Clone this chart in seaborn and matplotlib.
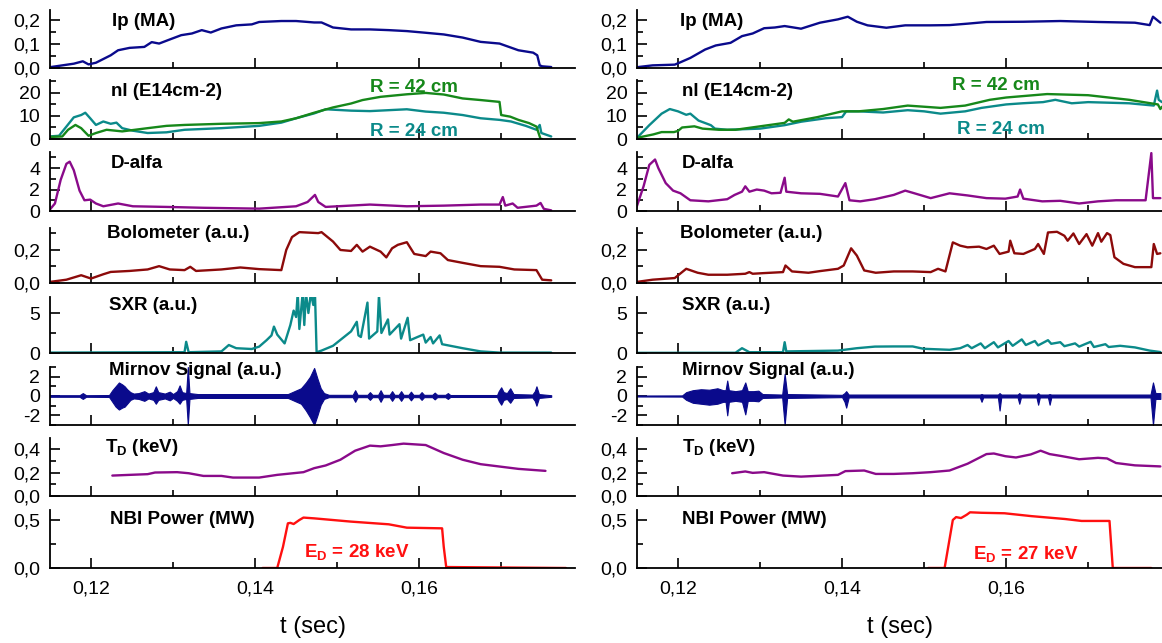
import numpy as np
import pandas as pd
import seaborn as sns
import matplotlib.pyplot as plt
import matplotlib.ticker as mticker

# ---------------- left shot ----------------
ip_t_l = [0.1149, 0.1179, 0.1190, 0.1197, 0.1206, 0.1224, 0.1233, 0.1247, 0.1265, 0.1274, 0.1283, 0.1296,
          0.1310, 0.1323, 0.1335, 0.1346, 0.1359, 0.1377, 0.1396, 0.1405, 0.1432, 0.1450, 0.1472, 0.1481,
          0.1495, 0.1517, 0.1540, 0.1563, 0.1585, 0.1608, 0.1630, 0.1653, 0.1675, 0.1698, 0.1721, 0.1739,
          0.1744, 0.1747, 0.1750, 0.1761]
ip_l = [0.003, 0.018, 0.028, 0.015, 0.022, 0.053, 0.074, 0.084, 0.088, 0.108, 0.102, 0.119,
        0.137, 0.144, 0.158, 0.148, 0.165, 0.178, 0.182, 0.192, 0.196, 0.196, 0.190, 0.190,
        0.169, 0.161, 0.161, 0.158, 0.154, 0.147, 0.140, 0.127, 0.109, 0.102, 0.074, 0.064,
        0.053, 0.011, 0.007, 0.004]

nl42_t_l = [0.1149, 0.1165, 0.1172, 0.1181, 0.1188, 0.1197, 0.1206, 0.1219, 0.1238, 0.1269, 0.1292, 0.1314,
            0.1359, 0.1405, 0.1432, 0.1450, 0.1472, 0.1495, 0.1517, 0.1531, 0.1553, 0.1585, 0.1608, 0.1630,
            0.1653, 0.1675, 0.1698, 0.1700, 0.1711, 0.1721, 0.1734, 0.1743, 0.1748, 0.1750]
nl42_l = [0.9, 1.1, 4.0, 6.1, 4.7, 1.4, 2.6, 4.0, 3.3, 4.7, 5.7, 6.1,
          6.6, 6.9, 7.6, 9.0, 11.4, 13.7, 15.4, 16.9, 18.3, 19.4, 20.0, 19.3,
          17.6, 16.9, 16.1, 10.4, 9.7, 8.3, 6.9, 5.4, 0.0, 0.0]
nl24_t_l = [0.1149, 0.1161, 0.1170, 0.1179, 0.1188, 0.1193, 0.1199, 0.1206, 0.1215, 0.1224, 0.1231, 0.1238,
            0.1251, 0.1269, 0.1292, 0.1314, 0.1359, 0.1405, 0.1432, 0.1450, 0.1472, 0.1486, 0.1517, 0.1540,
            0.1585, 0.1608, 0.1630, 0.1653, 0.1675, 0.1698, 0.1712, 0.1730, 0.1743, 0.1747, 0.1749, 0.1761]
nl24_l = [1.1, 1.4, 5.4, 9.4, 10.4, 11.4, 9.0, 6.1, 7.6, 6.6, 7.1, 4.7,
          3.6, 2.6, 2.9, 4.0, 4.7, 5.7, 7.1, 9.0, 11.1, 12.9, 12.3, 12.1,
          12.9, 11.9, 11.4, 10.4, 9.0, 8.3, 7.6, 5.7, 4.0, 6.1, 2.6, 1.1]

da_t_l = [0.1149, 0.1156, 0.1163, 0.1170, 0.1174, 0.1179, 0.1186, 0.1192, 0.1199, 0.1206, 0.1215, 0.1233,
          0.1251, 0.1292, 0.1337, 0.1405, 0.1450, 0.1464, 0.1473, 0.1477, 0.1486, 0.1540, 0.1585, 0.1630,
          0.1675, 0.1698, 0.1702, 0.1705, 0.1714, 0.1720, 0.1743, 0.1748, 0.1752, 0.1761]
da_l = [0.06, 0.7, 2.9, 4.4, 4.6, 3.8, 1.9, 1.0, 1.06, 0.7, 0.44, 0.7,
        0.44, 0.38, 0.3, 0.22, 0.44, 0.84, 1.5, 0.84, 0.38, 0.6, 0.44, 0.5,
        0.6, 0.6, 1.3, 0.5, 0.7, 0.3, 0.5, 0.75, 0.2, 0.06]

bolo_t_l = [0.1149, 0.1170, 0.1188, 0.1200, 0.1215, 0.1224, 0.1247, 0.1269, 0.1283, 0.1296, 0.1314, 0.1321,
            0.1328, 0.1359, 0.1382, 0.1405, 0.1432, 0.1438, 0.1445, 0.1454, 0.1477, 0.1481, 0.1495, 0.1504,
            0.1517, 0.1524, 0.1531, 0.1540, 0.1553, 0.1560, 0.1567, 0.1574, 0.1585, 0.1594, 0.1608, 0.1614,
            0.1626, 0.1635, 0.1653, 0.1675, 0.1698, 0.1716, 0.1743, 0.1750, 0.1761]
bolo_l = [0.006, 0.02, 0.047, 0.027, 0.053, 0.067, 0.073, 0.082, 0.102, 0.082, 0.078, 0.098,
          0.073, 0.082, 0.094, 0.084, 0.078, 0.2, 0.278, 0.308, 0.302, 0.308, 0.251, 0.2,
          0.194, 0.231, 0.19, 0.22, 0.19, 0.155, 0.21, 0.231, 0.247, 0.176, 0.163, 0.19,
          0.18, 0.139, 0.122, 0.102, 0.098, 0.082, 0.078, 0.02, 0.016]

sxr_t_l = [0.1149, 0.1305, 0.1314, 0.1316, 0.1319, 0.1359, 0.1368, 0.1377, 0.1396, 0.1405, 0.1414, 0.1420,
           0.1423, 0.1427, 0.1436, 0.1443, 0.1447, 0.1450, 0.1452, 0.1454, 0.1458, 0.1460, 0.1462, 0.1465,
           0.1468, 0.1471, 0.1473, 0.1475, 0.1481, 0.1495, 0.1517, 0.1524, 0.1526, 0.1529, 0.1537, 0.1539,
           0.1549, 0.1551, 0.1554, 0.1562, 0.1564, 0.1576, 0.1578, 0.1586, 0.1589, 0.1598, 0.1605, 0.1608,
           0.1614, 0.1617, 0.1625, 0.1628, 0.1653, 0.1675, 0.1698, 0.1761]
sxr_l = [0.05, 0.1, 0.1, 1.4, 0.1, 0.2, 1.0, 0.6, 0.5, 0.8, 1.6, 2.2,
         3.3, 2.3, 1.2, 3.5, 5.3, 4.5, 7.5, 3.0, 7.5, 3.5, 7.5, 5.0,
         7.5, 6.0, 7.5, 0.1, 0.3, 0.9, 2.7, 3.9, 2.2, 2.0, 6.3, 1.8,
         2.7, 7.2, 2.5, 4.2, 2.3, 3.6, 1.8, 4.4, 1.6, 2.0, 2.3, 1.3,
         2.0, 1.2, 2.2, 1.1, 0.6, 0.2, 0.05, 0.05]

# Mirnov coil: envelope of the fast oscillation (upper / lower)
mir_t_l = [0.1149, 0.1186, 0.1190, 0.1194, 0.1222, 0.1226, 0.1230, 0.1234, 0.1238, 0.1241, 0.1244, 0.1248,
           0.1252, 0.1258, 0.1265, 0.1270, 0.1276, 0.1279, 0.1282, 0.1290, 0.1296, 0.1300, 0.1305, 0.1308,
           0.1311, 0.1316, 0.1318, 0.1320, 0.1330, 0.1440, 0.1448, 0.1456, 0.1462, 0.1467, 0.1472, 0.1476,
           0.1480, 0.1484, 0.1490,
           0.1519, 0.1522, 0.1525, 0.1537, 0.1540, 0.1543, 0.1550, 0.1553, 0.1556, 0.1564, 0.1567, 0.1570,
           0.1575, 0.1578, 0.1581, 0.1587, 0.1590, 0.1593, 0.1600, 0.1603, 0.1606, 0.1616, 0.1619, 0.1622,
           0.1632, 0.1635, 0.1638, 0.1695, 0.1697, 0.1700, 0.1703, 0.1707, 0.1711, 0.1715, 0.1738, 0.1741,
           0.1743, 0.1746, 0.1761]
mir_hi_l = [0.08, 0.08, 0.3, 0.08, 0.1, 0.6, 1.0, 1.4, 1.2, 1.0, 0.7, 0.4,
            0.25, 0.3, 0.5, 0.25, 0.4, 1.0, 0.4, 0.25, 0.45, 0.2, 0.5, 1.1,
            0.4, 0.3, 3.0, 0.3, 0.2, 0.2, 0.5, 0.8, 1.4, 2.0, 2.9, 1.8,
            0.8, 0.3, 0.12,
            0.12, 0.6, 0.12, 0.12, 0.4, 0.12, 0.12, 0.6, 0.12, 0.12, 0.5, 0.12,
            0.12, 0.5, 0.12, 0.12, 0.45, 0.12, 0.12, 0.4, 0.12, 0.12, 0.35, 0.12,
            0.12, 0.3, 0.1, 0.1, 0.5, 0.9, 0.4, 0.3, 0.8, 0.2, 0.15, 0.5,
            1.0, 0.2, 0.08]
mir_lo_l = [-0.08, -0.08, -0.3, -0.08, -0.1, -0.6, -1.1, -1.4, -1.2, -1.1, -0.8, -0.4,
            -0.25, -0.3, -0.5, -0.25, -0.4, -0.8, -0.4, -0.25, -0.45, -0.2, -0.5, -0.8,
            -0.4, -0.3, -3.0, -0.3, -0.2, -0.2, -0.5, -0.8, -1.5, -2.2, -3.0, -2.0,
            -0.9, -0.3, -0.12,
            -0.12, -0.6, -0.12, -0.12, -0.4, -0.12, -0.12, -0.6, -0.12, -0.12, -0.5, -0.12,
            -0.12, -0.5, -0.12, -0.12, -0.45, -0.12, -0.12, -0.4, -0.12, -0.12, -0.35, -0.12,
            -0.12, -0.3, -0.1, -0.1, -0.5, -0.9, -0.4, -0.3, -0.7, -0.2, -0.15, -0.5,
            -1.0, -0.2, -0.08]

td_t_l = [0.1226, 0.1247, 0.1269, 0.1278, 0.1305, 0.1319, 0.1337, 0.1359, 0.1373, 0.1405, 0.1427, 0.1459,
          0.1472, 0.1486, 0.1504, 0.1522, 0.1540, 0.1553, 0.1567, 0.1581, 0.1608, 0.1630, 0.1653, 0.1675,
          0.1698, 0.1721, 0.1754]
td_l = [0.174, 0.18, 0.186, 0.20, 0.203, 0.194, 0.171, 0.171, 0.157, 0.157, 0.18, 0.203,
        0.237, 0.26, 0.309, 0.386, 0.429, 0.423, 0.434, 0.446, 0.434, 0.366, 0.309, 0.271,
        0.251, 0.231, 0.214]

nbi_t_l = [0.1409, 0.1427, 0.1434, 0.1440, 0.1443, 0.1447, 0.1454, 0.1459, 0.1472, 0.1517, 0.1563, 0.1585,
           0.1628, 0.1630, 0.1633, 0.1779]
nbi_l = [0.0, 0.0, 0.22, 0.465, 0.47, 0.458, 0.5, 0.525, 0.517, 0.483, 0.455, 0.42,
         0.413, 0.22, 0.01, 0.0]

# ---------------- right shot ----------------
ip_t_r = [0.1149, 0.1169, 0.1196, 0.1203, 0.1215, 0.1233, 0.1246, 0.1264, 0.1278, 0.1291, 0.1305, 0.1318,
          0.1330, 0.1350, 0.1373, 0.1395, 0.1407, 0.1418, 0.1431, 0.1454, 0.1477, 0.1508, 0.1531, 0.1553,
          0.1576, 0.1621, 0.1666, 0.1712, 0.1757, 0.1775, 0.1779, 0.1788]
ip_r = [0.003, 0.011, 0.014, 0.024, 0.042, 0.077, 0.094, 0.105, 0.133, 0.144, 0.166, 0.169,
        0.175, 0.164, 0.189, 0.203, 0.214, 0.193, 0.178, 0.168, 0.178, 0.178, 0.179, 0.185,
        0.192, 0.193, 0.196, 0.192, 0.189, 0.179, 0.214, 0.189]

nl42_t_r = [0.1150, 0.1170, 0.1180, 0.1195, 0.1200, 0.1205, 0.1220, 0.1225, 0.1230, 0.1250, 0.1270, 0.1300,
            0.1330, 0.1335, 0.1340, 0.1370, 0.1400, 0.1420, 0.1450, 0.1480, 0.1500, 0.1520, 0.1550, 0.1580,
            0.1600, 0.1650, 0.1700, 0.1750, 0.1785, 0.1788, 0.1790]
nl42_r = [0.5, 2.0, 3.0, 3.0, 3.5, 5.0, 5.5, 5.0, 4.5, 4.0, 4.0, 5.5,
          7.0, 8.5, 7.5, 9.5, 12.0, 12.0, 13.0, 14.5, 14.0, 13.5, 14.5, 17.0,
          18.0, 19.5, 19.0, 17.0, 15.0, 13.0, 14.0]
nl24_t_r = [0.1150, 0.1165, 0.1180, 0.1190, 0.1200, 0.1210, 0.1215, 0.1225, 0.1240, 0.1245, 0.1260, 0.1300,
            0.1330, 0.1350, 0.1380, 0.1400, 0.1405, 0.1420, 0.1450, 0.1480, 0.1500, 0.1520, 0.1550, 0.1570,
            0.1600, 0.1620, 0.1645, 0.1660, 0.1680, 0.1700, 0.1750, 0.1780, 0.1784, 0.1786, 0.1790]
nl24_r = [0.5, 6.0, 11.0, 13.0, 12.0, 10.5, 11.0, 8.0, 6.0, 4.5, 4.0, 4.5,
          6.0, 7.5, 9.0, 9.5, 12.0, 12.0, 11.5, 12.5, 12.0, 11.0, 12.0, 13.5,
          15.0, 15.5, 16.0, 17.0, 15.5, 16.0, 15.5, 14.5, 21.0, 17.0, 16.0]

da_t_r = [0.1149, 0.1158, 0.1165, 0.1172, 0.1176, 0.1185, 0.1194, 0.1203, 0.1215, 0.1237, 0.1260, 0.1269,
          0.1278, 0.1282, 0.1287, 0.1296, 0.1305, 0.1314, 0.1325, 0.1330, 0.1332, 0.1350, 0.1373, 0.1395,
          0.1404, 0.1409, 0.1422, 0.1440, 0.1463, 0.1477, 0.1486, 0.1508, 0.1531, 0.1553, 0.1576, 0.1599,
          0.1614, 0.1617, 0.1621, 0.1644, 0.1666, 0.1689, 0.1712, 0.1734, 0.1770, 0.1777, 0.1779, 0.1788]
da_r = [0.25, 2.3, 4.3, 4.8, 4.0, 2.6, 1.9, 1.65, 1.0, 0.9, 1.1, 1.5,
        1.8, 2.3, 1.8, 2.0, 1.9, 1.65, 1.7, 3.1, 1.8, 1.65, 1.6, 1.35,
        2.6, 1.0, 0.9, 1.1, 1.5, 1.9, 1.7, 1.2, 1.65, 1.45, 1.2, 1.15,
        1.35, 2.0, 1.15, 0.9, 0.95, 0.7, 0.9, 1.0, 1.0, 5.4, 1.2, 1.2]

bolo_t_r = [0.1149, 0.1169, 0.1196, 0.1210, 0.1224, 0.1237, 0.1260, 0.1282, 0.1287, 0.1291, 0.1305, 0.1328,
            0.1331, 0.1339, 0.1359, 0.1373, 0.1395, 0.1402, 0.1411, 0.1418, 0.1427, 0.1441, 0.1463, 0.1486,
            0.1508, 0.1517, 0.1526, 0.1535, 0.1544, 0.1553, 0.1567, 0.1576, 0.1585, 0.1592, 0.1603, 0.1605,
            0.1610, 0.1621, 0.1635, 0.1639, 0.1646, 0.1651, 0.1662, 0.1671, 0.1675, 0.1682, 0.1689, 0.1698,
            0.1705, 0.1712, 0.1716, 0.1723, 0.1727, 0.1732, 0.1743, 0.1757, 0.1777, 0.1780, 0.1784, 0.1788]
bolo_r = [0.006, 0.02, 0.03, 0.086, 0.062, 0.05, 0.05, 0.056, 0.066, 0.056, 0.06, 0.066,
          0.106, 0.07, 0.062, 0.072, 0.086, 0.106, 0.21, 0.166, 0.076, 0.062, 0.07, 0.07,
          0.066, 0.086, 0.07, 0.246, 0.226, 0.216, 0.22, 0.206, 0.226, 0.176, 0.19, 0.256,
          0.18, 0.176, 0.206, 0.236, 0.176, 0.306, 0.31, 0.286, 0.256, 0.30, 0.236, 0.296,
          0.226, 0.302, 0.25, 0.302, 0.29, 0.156, 0.116, 0.096, 0.096, 0.236, 0.176, 0.18]

sxr_t_r = [0.1149, 0.1270, 0.1278, 0.1287, 0.1328, 0.1330, 0.1332, 0.1395, 0.1418, 0.1440, 0.1463, 0.1486,
           0.1499, 0.1531, 0.1544, 0.1553, 0.1558, 0.1569, 0.1574, 0.1585, 0.1590, 0.1603, 0.1608, 0.1619,
           0.1624, 0.1635, 0.1639, 0.1651, 0.1655, 0.1666, 0.1671, 0.1684, 0.1689, 0.1703, 0.1707, 0.1721,
           0.1725, 0.1739, 0.1757, 0.1775, 0.1788]
sxr_r = [0.02, 0.03, 0.6, 0.1, 0.1, 1.35, 0.2, 0.3, 0.6, 0.8, 0.82, 0.82,
         0.53, 0.4, 0.6, 1.0, 0.6, 1.2, 0.6, 1.35, 0.7, 1.5, 0.9, 1.7,
         1.0, 1.5, 0.95, 1.6, 1.15, 1.35, 0.85, 1.2, 0.8, 1.4, 0.75, 1.1,
         0.75, 0.9, 0.7, 0.3, 0.12]

mir_t_r = [0.1149, 0.1205, 0.1210, 0.1218, 0.1228, 0.1238, 0.1248, 0.1255, 0.1258, 0.1260, 0.1262, 0.1270,
           0.1278, 0.1282, 0.1285, 0.1292, 0.1298, 0.1303, 0.1327, 0.1330, 0.1333, 0.1400, 0.1403, 0.1405,
           0.1408, 0.1568, 0.1570, 0.1572, 0.1590, 0.1592, 0.1594, 0.1614, 0.1616, 0.1618, 0.1637, 0.1639,
           0.1641, 0.1651, 0.1653, 0.1655, 0.1776, 0.1779, 0.1782, 0.1788]
mir_hi_r = [0.05, 0.06, 0.4, 0.6, 0.7, 0.65, 0.8, 0.6, 0.6, 1.6, 0.6, 0.5,
            0.6, 1.4, 0.5, 0.5, 0.55, 0.2, 0.15, 2.3, 0.2, 0.12, 0.3, 0.5,
            0.15, 0.15, 0.2, 0.15, 0.15, 0.3, 0.15, 0.15, 0.3, 0.15, 0.15, 0.3,
            0.15, 0.15, 0.2, 0.15, 0.15, 1.4, 0.3, 0.3]
mir_lo_r = [-0.05, -0.06, -0.4, -0.7, -0.8, -0.9, -0.8, -0.6, -0.6, -2.0, -0.6, -0.5,
            -0.6, -1.9, -0.5, -0.5, -0.55, -0.2, -0.15, -3.0, -0.2, -0.12, -0.6, -1.2,
            -0.15, -0.15, -0.6, -0.15, -0.15, -1.5, -0.15, -0.15, -0.8, -0.15, -0.15, -0.9,
            -0.15, -0.15, -0.9, -0.15, -0.15, -3.0, -0.3, -0.3]

td_t_r = [0.1266, 0.1282, 0.1291, 0.1305, 0.1328, 0.1350, 0.1395, 0.1404, 0.1427, 0.1441, 0.1463, 0.1486,
          0.1508, 0.1531, 0.1553, 0.1576, 0.1585, 0.1599, 0.1612, 0.1630, 0.1642, 0.1653, 0.1666, 0.1689,
          0.1712, 0.1723, 0.1734, 0.1757, 0.1788]
td_r = [0.194, 0.209, 0.197, 0.203, 0.174, 0.165, 0.18, 0.212, 0.217, 0.188, 0.188, 0.194,
        0.203, 0.217, 0.275, 0.357, 0.362, 0.339, 0.328, 0.354, 0.386, 0.357, 0.342, 0.313,
        0.325, 0.32, 0.281, 0.261, 0.252]

nbi_t_r = [0.1505, 0.1525, 0.1535, 0.1539, 0.1545, 0.1552, 0.1556, 0.1570, 0.1598, 0.1631, 0.1672, 0.1692,
           0.1726, 0.1730, 0.1753, 0.1777]
nbi_r = [0.0, 0.0, 0.50, 0.53, 0.52, 0.555, 0.58, 0.575, 0.57, 0.54, 0.51, 0.49,
         0.49, 0.0, 0.0, 0.0]

# panel titles / limits
titles = ['Ip (MA)', 'nl (E14cm-2)', 'D-alfa', 'Bolometer (a.u.)', 'SXR (a.u.)',
          'Mirnov Signal (a.u.)', r'T$_\mathbf{D}$ (keV)', 'NBI Power (MW)']
ylims = [(0, 0.242), (0, 25.6), (0, 5.5), (0, 0.333), (0, 7), (-3, 3), (0, 0.494), (0, 0.604)]
ymajor = [0.1, 10, 2, 0.2, 5, 2, 0.2, 0.5]
yminor = [0.05, 5, 1, 0.1, 2.5, 1, 0.1, 0.25]
ydec = [1, 0, 0, 1, 0, 0, 1, 1]

NAVY, GREEN, TEAL = '#0a0a8c', '#16881a', '#0b8a8a'
PURPLE, MAROON, RED = '#8a0a8a', '#8c0a0a', '#ff1010'

sns.set_style("ticks")
plt.rcParams['font.family'] = ['Liberation Sans', 'DejaVu Sans']
plt.rcParams['mathtext.fontset'] = 'custom'
plt.rcParams['mathtext.rm'] = 'Liberation Sans'
plt.rcParams['mathtext.bf'] = 'Liberation Sans:bold'
plt.rcParams['axes.unicode_minus'] = False
plt.rcParams['text.color'] = 'black'
plt.rcParams['xtick.color'] = 'black'
plt.rcParams['ytick.color'] = 'black'

W, H = 1162, 643
fig = plt.figure(figsize=(W / 100, H / 100), dpi=100)

panel_px = [(10, 68), (80, 139), (152, 211), (228, 283), (297, 353), (367, 425), (438, 496), (510, 568)]
col_px = [(50, 575), (637, 1162)]
title_x = [[112, 111, 111, 107, 109, 109, 105, 110], [680, 682, 682, 680, 682, 682, 682, 682]]
title_y = [21, 92, 163, 233, 305, 371, 447, 519]

shots = [
    dict(ip=(ip_t_l, ip_l), nl42=(nl42_t_l, nl42_l), nl24=(nl24_t_l, nl24_l), da=(da_t_l, da_l),
         bolo=(bolo_t_l, bolo_l), sxr=(sxr_t_l, sxr_l), mir=(mir_t_l, mir_hi_l, mir_lo_l),
         td=(td_t_l, td_l), nbi=(nbi_t_l, nbi_l)),
    dict(ip=(ip_t_r, ip_r), nl42=(nl42_t_r, nl42_r), nl24=(nl24_t_r, nl24_r), da=(da_t_r, da_r),
         bolo=(bolo_t_r, bolo_r), sxr=(sxr_t_r, sxr_r), mir=(mir_t_r, mir_hi_r, mir_lo_r),
         td=(td_t_r, td_r), nbi=(nbi_t_r, nbi_r)),
]


def fmt(dec):
    if dec:
        return mticker.FuncFormatter(lambda v, p: f'{v:.1f}'.replace('.', ','))
    return mticker.FuncFormatter(lambda v, p: f'{v:.0f}')


def line(ax, tv, color):
    t, v = tv
    sns.lineplot(x=t, y=v, ax=ax, color=color, linewidth=1.7, estimator=None, sort=False)


for c, (x0, x1) in enumerate(col_px):
    s = shots[c]
    for i, (top, bot) in enumerate(panel_px):
        ax = fig.add_axes([x0 / W, 1 - bot / H, (x1 - x0) / W, (bot - top) / H])
        if i == 0:
            line(ax, s['ip'], NAVY)
        elif i == 1:
            line(ax, s['nl24'], TEAL)
            line(ax, s['nl42'], GREEN)
        elif i == 2:
            line(ax, s['da'], PURPLE)
        elif i == 3:
            line(ax, s['bolo'], MAROON)
        elif i == 4:
            line(ax, s['sxr'], TEAL)
        elif i == 5:
            t, hi, lo = s['mir']
            ax.fill_between(t, lo, hi, color=NAVY, linewidth=0.8)
        elif i == 6:
            line(ax, s['td'], PURPLE)
        else:
            line(ax, s['nbi'], RED)

        ax.set_xlim(0.115, 0.179)
        ax.set_ylim(*ylims[i])
        ax.xaxis.set_major_locator(mticker.MultipleLocator(0.02))
        ax.xaxis.set_minor_locator(mticker.MultipleLocator(0.01))
        ax.yaxis.set_major_locator(mticker.MultipleLocator(ymajor[i]))
        ax.yaxis.set_minor_locator(mticker.MultipleLocator(yminor[i]))
        ax.yaxis.set_major_formatter(fmt(ydec[i]))
        ax.xaxis.set_major_formatter(mticker.FuncFormatter(lambda v, p: f'{v:.2f}'.replace('.', ',')))
        ax.tick_params(which='both', direction='in', width=1.2, top=False, right=False,
                       labelsize=14, pad=7, colors='black')
        ax.tick_params(which='major', length=7)
        ax.tick_params(which='minor', length=4)
        ax.tick_params(axis='x', pad=9)
        if i < 7:
            ax.tick_params(axis='x', labelbottom=False)
        ax.set_xlabel('')
        ax.set_ylabel('')
        sns.despine(ax=ax)
        for sp in ('left', 'bottom'):
            ax.spines[sp].set_linewidth(1.3)
            ax.spines[sp].set_color('black')
        ax.patch.set_alpha(0)

        fig.text(title_x[c][i] / W, 1 - title_y[i] / H, titles[i], fontsize=13.5,
                 fontweight='bold', ha='left', va='center', color='black')


# annotations
def note(px, py, s, color):
    fig.text(px / W, 1 - py / H, s, fontsize=13.5, fontweight='bold', color=color,
             ha='left', va='center')


note(370, 87, 'R = 42 cm', GREEN)
note(370, 132, 'R = 24 cm', TEAL)
note(952, 85, 'R = 42 cm', GREEN)
note(957, 130, 'R = 24 cm', TEAL)
note(304, 553, r'E$_\mathbf{D}$ = 28 keV', RED)
note(973, 555, r'E$_\mathbf{D}$ = 27 keV', RED)

fig.text(313 / W, 1 - 627 / H, 't (sec)', fontsize=17, ha='center', va='center')
fig.text(900 / W, 1 - 627 / H, 't (sec)', fontsize=17, ha='center', va='center')

fig.savefig('out.png', dpi=100)
